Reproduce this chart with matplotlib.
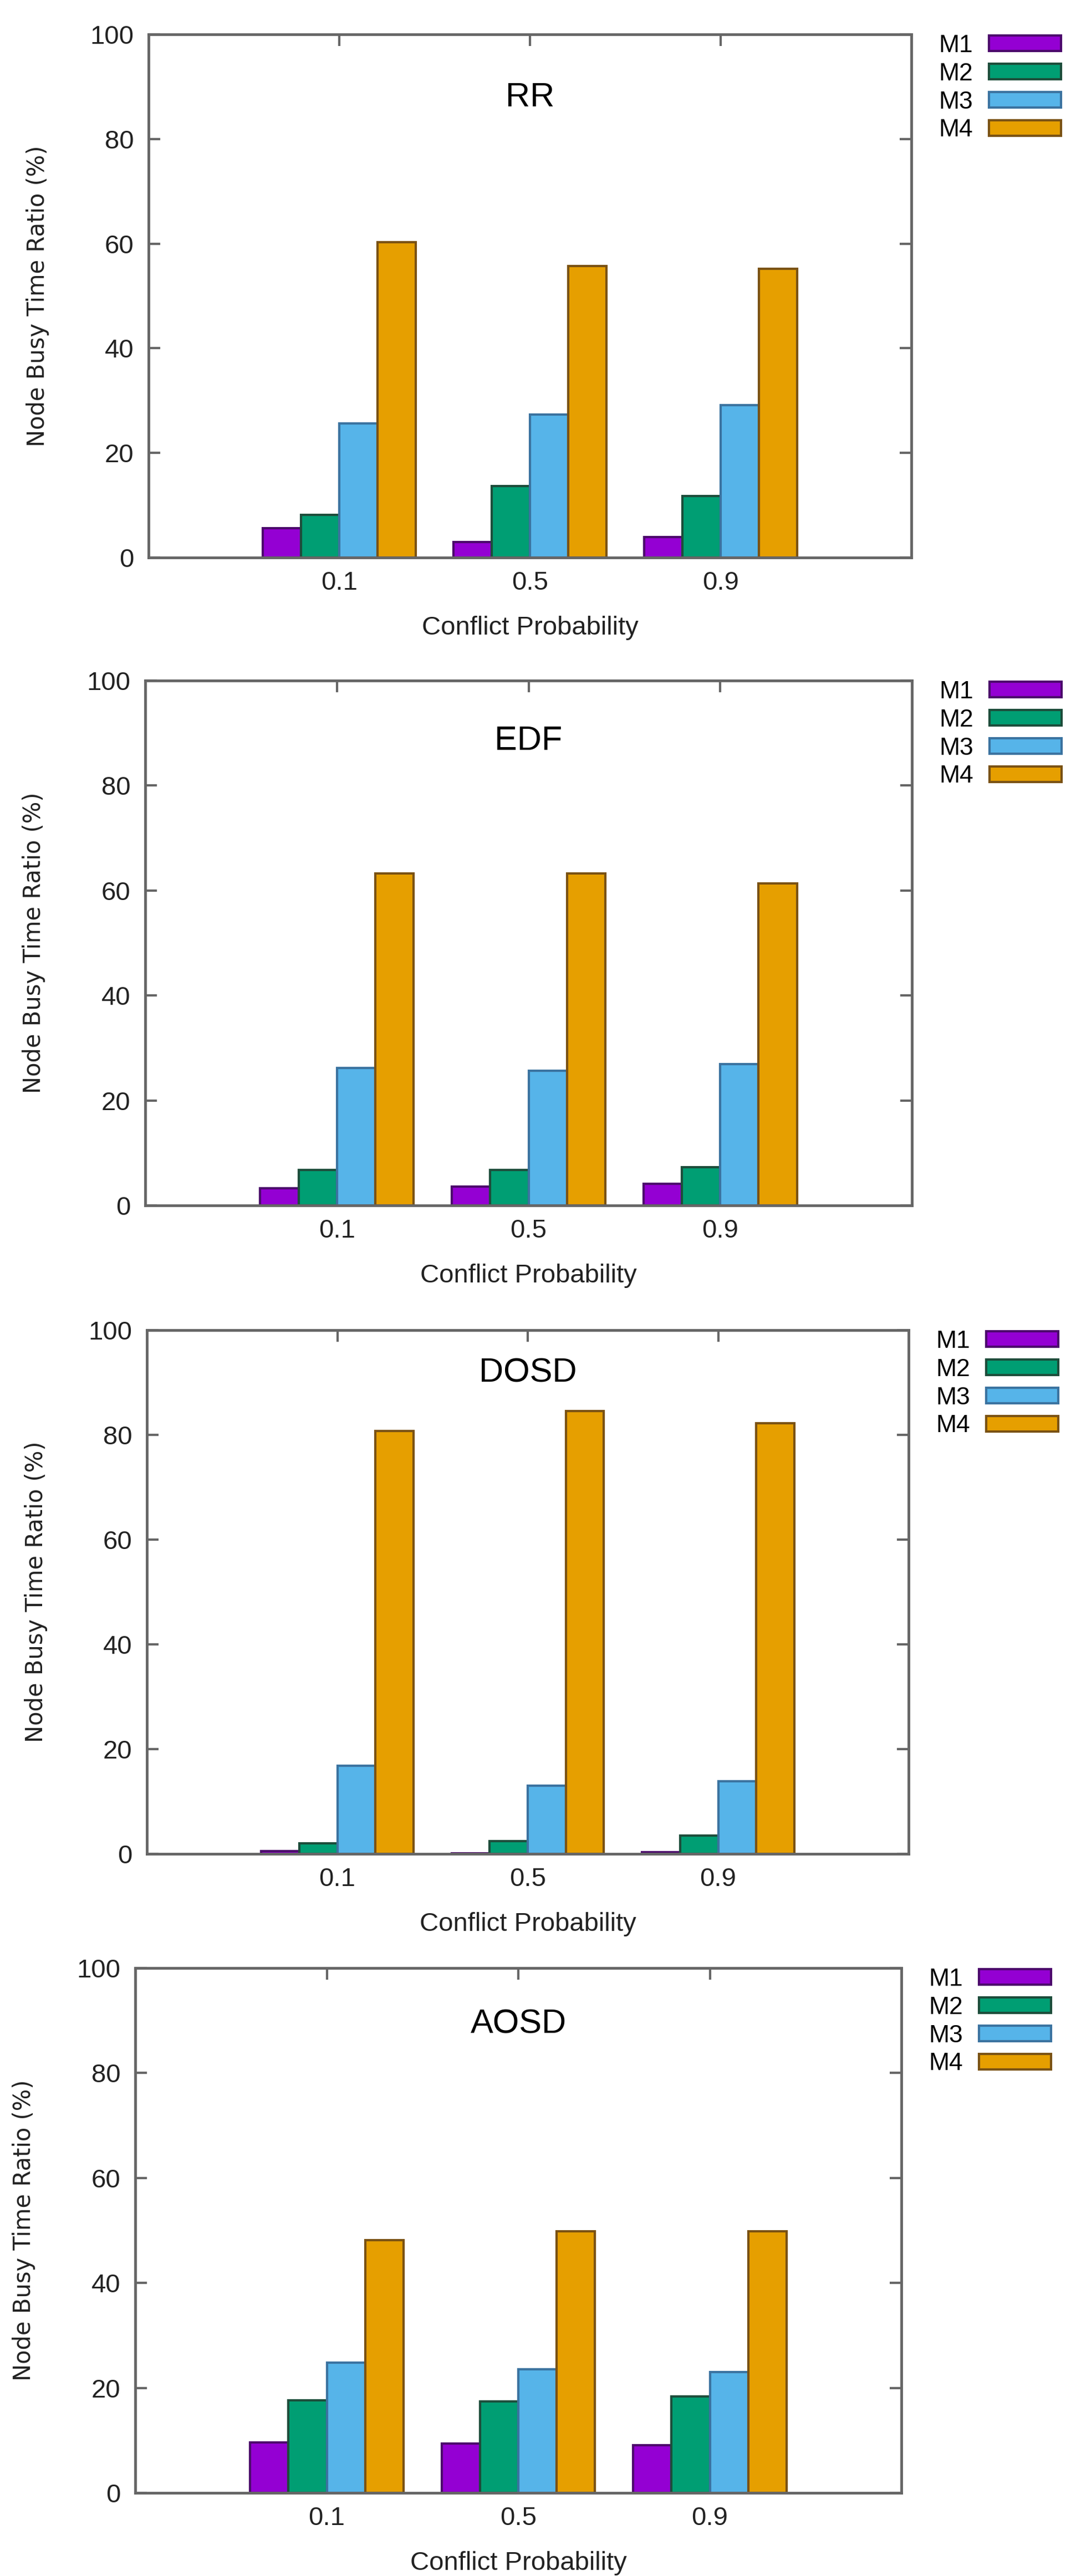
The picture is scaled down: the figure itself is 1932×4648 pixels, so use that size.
import numpy as np
import matplotlib
matplotlib.use("Agg")
from matplotlib import pyplot as plt

# data
probs = ["0.1", "0.5", "0.9"]
series = ["M1", "M2", "M3", "M4"]
schedulers = ["RR", "EDF", "DOSD", "AOSD"]

rr = [[5.6, 3.0, 3.9],
      [8.2, 13.7, 11.8],
      [25.6, 27.3, 29.1],
      [60.3, 55.7, 55.2]]
edf = [[3.3, 3.6, 4.1],
       [6.8, 6.8, 7.3],
       [26.2, 25.7, 26.9],
       [63.3, 63.3, 61.3]]
dosd = [[0.5, 0.1, 0.3],
        [2.0, 2.4, 3.5],
        [16.8, 13.0, 13.9],
        [80.7, 84.5, 82.2]]
aosd = [[9.6, 9.4, 9.1],
        [17.6, 17.4, 18.4],
        [24.8, 23.6, 23.0],
        [48.2, 49.8, 49.8]]
panels = [rr, edf, dosd, aosd]

fills = ["#9400d3", "#009e73", "#56b4e9", "#e69f00"]
edges = ["#4c0a6c", "#1d4d3b", "#3b73a0", "#7a5214"]

W, H = 1932, 4648
# axes boxes in pixels: left, right, top, bottom
boxes = [(268, 1644, 62, 1006),
         (262, 1645, 1228, 2175),
         (265, 1639, 2400, 3345),
         (244, 1626, 3551, 4498)]
title_y = [0.879, 0.884, 0.917, 0.892]

sans = ["Liberation Sans", "DejaVu Sans"]
plt.rcParams["font.family"] = sans

fig = plt.figure(figsize=(W / 100, H / 100), dpi=100)
x = np.arange(len(probs))
width = 0.2

for k, data in enumerate(panels):
    l, r, t, b = boxes[k]
    ax = fig.add_axes([l / W, 1 - b / H, (r - l) / W, (b - t) / H])
    for i, name in enumerate(series):
        ax.bar(x + (i - 1.5) * width, data[i], width, color=fills[i],
               edgecolor=edges[i], linewidth=3, label=name, zorder=2)
    ax.set_xlim(-1, 3)
    ax.set_ylim(0, 100)
    ax.set_xticks(x)
    ax.set_xticklabels(probs)
    ax.set_yticks(np.arange(0, 101, 20))
    ax.tick_params(axis="both", direction="in", length=15, width=3,
                   color="#666666", labelsize=34, labelcolor="#222222",
                   top=True, right=True)
    ax.tick_params(axis="x", pad=17)
    ax.tick_params(axis="y", pad=19)
    for s in ax.spines.values():
        s.set_color("#666666")
        s.set_linewidth(3.5)
        s.set_zorder(3)
    ax.set_xlabel("Conflict Probability", fontsize=34, color="#222222",
                  labelpad=27)
    ax.set_ylabel("Node Busy Time Ratio (%)", fontsize=30, color="#222222",
                  family="DejaVu Sans")
    ax.yaxis.set_label_coords(-0.130, 0.5)
    ax.text(0.5, title_y[k], schedulers[k], transform=ax.transAxes,
            ha="center", va="center", fontsize=44, color="black")
    ax.legend(loc="upper left", bbox_to_anchor=(1.0356, 1.0), frameon=False,
              markerfirst=False, fontsize=32, handlelength=2.93,
              handleheight=0.6, handletextpad=0.65, labelspacing=0.22,
              borderpad=0, borderaxespad=0)

fig.savefig("out.png", dpi=100, facecolor="white")
